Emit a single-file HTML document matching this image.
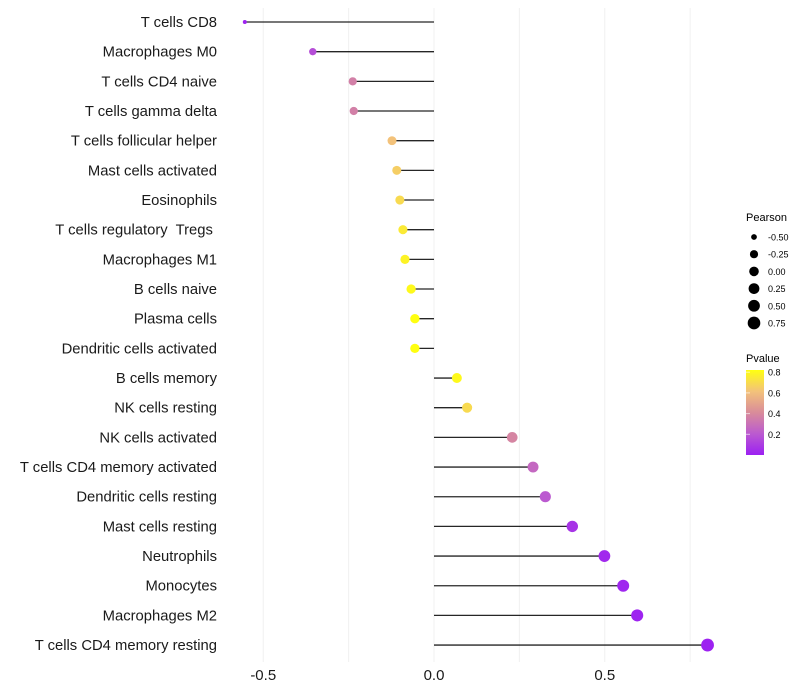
<!DOCTYPE html>
<html><head><meta charset="utf-8"><style>
body{margin:0;background:#fff;}
svg{display:block;font-family:"Liberation Sans",sans-serif;}
.pre{white-space:pre;}
</style></head><body>
<svg id="chart" width="800" height="700" viewBox="0 0 800 700">
<defs>
<linearGradient id="pgrad" x1="0" y1="1" x2="0" y2="0">
<stop offset="0" stop-color="#9c20f2"/>
<stop offset="0.25" stop-color="#bb5ad0"/>
<stop offset="0.5" stop-color="#d98c9a"/>
<stop offset="0.75" stop-color="#f3c27a"/>
<stop offset="1" stop-color="#ffff10"/>
</linearGradient>
</defs>
<g id="grid"></g>
<g id="marks"></g>
<g id="ylabels"></g>
<g id="xlabels"></g>
<g>
<text x="746" y="221" font-size="11" fill="#000">Pearson</text>
<g id="sizeLegend"></g>
</g>
<g>
<text x="746" y="362" font-size="11" fill="#000">Pvalue</text>
<rect x="746" y="370" width="18" height="85" fill="url(#pgrad)"/>
<g id="colorTicks"></g>
</g>
</svg>
<script>
const categories=["T cells CD8","Macrophages M0","T cells CD4 naive","T cells gamma delta","T cells follicular helper","Mast cells activated","Eosinophils","T cells regulatory  Tregs ","Macrophages M1","B cells naive","Plasma cells","Dendritic cells activated","B cells memory","NK cells resting","NK cells activated","T cells CD4 memory activated","Dendritic cells resting","Mast cells resting","Neutrophils","Monocytes","Macrophages M2","T cells CD4 memory resting"];
const pearson=[-0.554,-0.355,-0.238,-0.235,-0.123,-0.109,-0.100,-0.091,-0.085,-0.067,-0.056,-0.056,0.067,0.097,0.229,0.290,0.326,0.405,0.499,0.554,0.595,0.801];
const pvalue=[0.01,0.16,0.36,0.36,0.62,0.66,0.70,0.75,0.78,0.80,0.82,0.82,0.80,0.70,0.38,0.26,0.2,0.07,0.03,0.02,0.01,0.005];
const xTicks=[-0.5,0,0.5];
const xGrid=[-0.5,-0.25,0,0.25,0.5,0.75];
const sizeLegendVals=[-0.5,-0.25,0,0.25,0.5,0.75];
const colorTickVals=[0.2,0.4,0.6,0.8];
const NS="http://www.w3.org/2000/svg";
function X(v){return 434+v*341.5;}
function Y(i){return 22+i*29.67;}
function R(v){return 2+4.4*Math.sqrt(Math.max(0,(v+0.554)/1.355));}
function CB(p){return 455-p*103.5;}
function hex(c){return [parseInt(c.slice(1,3),16),parseInt(c.slice(3,5),16),parseInt(c.slice(5,7),16)];}
const stops=[[0,"#9c20f2"],[0.2,"#bb5ad0"],[0.41,"#d98c9a"],[0.62,"#f3c27a"],[0.82,"#ffff10"]];
function col(p){
 if(p<=stops[0][0])return stops[0][1];
 for(let k=1;k<stops.length;k++){if(p<=stops[k][0]){const t=(p-stops[k-1][0])/(stops[k][0]-stops[k-1][0]);const a=hex(stops[k-1][1]),b=hex(stops[k][1]);return "rgb("+a.map((x,j)=>Math.round(x+(b[j]-x)*t)).join(",")+")";}}
 return stops[stops.length-1][1];
}
function mk(tag,attrs,parent){const e=document.createElementNS(NS,tag);for(const k in attrs)e.setAttribute(k,attrs[k]);parent.appendChild(e);return e;}
const grid=document.getElementById("grid");
xGrid.forEach(v=>{
 const l=mk("line",{x1:X(v),x2:X(v),y1:8,y2:662,stroke:"#f0f0f0","stroke-width":1},grid);
 
 
});
const marks=document.getElementById("marks");
const yl=document.getElementById("ylabels");
categories.forEach((c,i)=>{
 const ln=mk("line",{x1:X(0),x2:X(pearson[i]),y1:Y(i),y2:Y(i),stroke:"#000","stroke-width":1.3,"stroke-opacity":0.85},marks);
 
 
 const pt=mk("circle",{cx:X(pearson[i]),cy:Y(i),r:R(pearson[i]),fill:col(pvalue[i])},marks);
 
 
 const t=mk("text",{x:217,y:Y(i)+5,"text-anchor":"end","font-size":14.8,fill:"#1a1a1a","class":"pre"},yl);
 t.textContent=c;
 
 
});
const xl=document.getElementById("xlabels");
xTicks.forEach(v=>{
 const t=mk("text",{x:X(v),y:680,"text-anchor":"middle","font-size":15,fill:"#1a1a1a"},xl);
 t.textContent=v.toFixed(1);
 
 
});
const sl=document.getElementById("sizeLegend");
sizeLegendVals.forEach((v,k)=>{
 const y=237+k*17.2;
 const c=mk("circle",{cx:754,cy:y,r:R(v),fill:"#000"},sl);
 
 
 const t=mk("text",{x:768,y:y+3.5,"font-size":9,fill:"#000"},sl);
 t.textContent=v.toFixed(2);
 
 
});
const ct=document.getElementById("colorTicks");
colorTickVals.forEach(p=>{
 const l=mk("line",{x1:746,x2:750,y1:CB(p),y2:CB(p),stroke:"#fff","stroke-opacity":0.6},ct);
 
 
 const t=mk("text",{x:768,y:CB(p)+3.5,"font-size":9,fill:"#000"},ct);
 t.textContent=p.toFixed(1);
 
 
});
</script>
</body></html>
